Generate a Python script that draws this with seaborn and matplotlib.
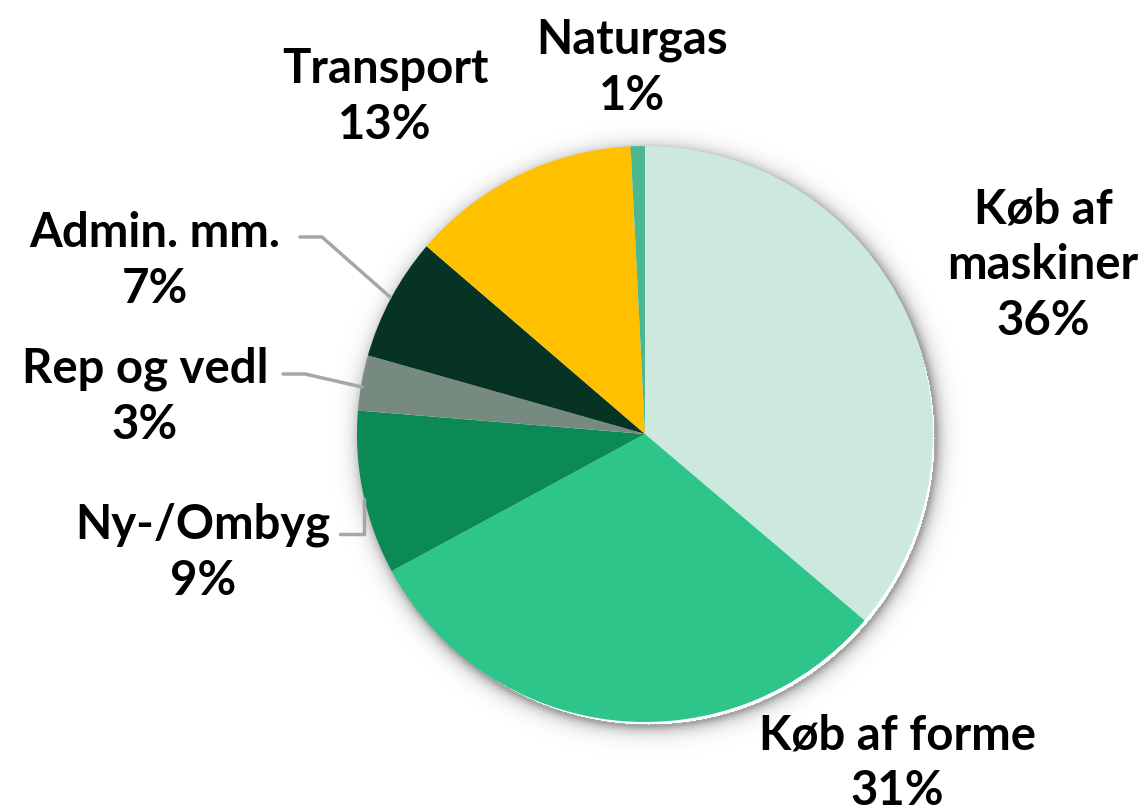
import numpy as np
import matplotlib
matplotlib.use('Agg')
import matplotlib.pyplot as plt
import seaborn as sns

categories = ['Køb af maskiner', 'Køb af forme', 'Ny-/Ombyg', 'Rep og vedl',
              'Admin. mm.', 'Transport', 'Naturgas']
label_text = ['Køb af\nmaskiner', 'Køb af forme', 'Ny-/Ombyg', 'Rep og vedl',
              'Admin. mm.', 'Transport', 'Naturgas']
shares = [36.2, 30.9, 9.2, 3.1, 6.9, 12.9, 0.8]
pct_labels = ['36%', '31%', '9%', '3%', '7%', '13%', '1%']
colors = ['#CDE9DF', '#2EC58A', '#0B8A55', '#778A80', '#063324', '#FFC000', '#4DB88F']

sns.set_theme(style='white')
plt.rcParams['font.family'] = ['Lato', 'DejaVu Sans']

W, H = 1146, 812
fig = plt.figure(figsize=(W / 100, H / 100), dpi=100)
ax = fig.add_axes([0, 0, 1, 1])

cx, cy, r = 645, H - 435, 288

# soft shadow around the pie
yy, xx = np.mgrid[0:H, 0:W]
d = np.hypot(xx - (cx + 3), (H - yy) - (cy - 4))
alpha = np.where(d > r - 2, np.exp(-np.clip(d - r, 0, None) / 7.0), 0) * 0.35
shadow = np.zeros((H, W, 4))
shadow[..., 3] = alpha
ax.imshow(shadow, extent=[0, W, 0, H], origin='upper', zorder=0)

ax.pie(shares, colors=colors, startangle=90, counterclock=False,
       center=(cx, cy), radius=r, frame=True,
       wedgeprops=dict(linewidth=0, zorder=2))
ax.set_xlim(0, W)
ax.set_ylim(0, H)
ax.set_aspect('equal')
ax.axis('off')

# label positions (pixel coords, top-left origin)
label_pos = [(1043, 265), (897, 763), (203, 553), (145, 397),
             (155, 261), (385, 97), (632, 68)]
for txt, pct, (x, y) in zip(label_text, pct_labels, label_pos):
    ax.text(x, H - y, txt + '\n' + pct, ha='center', va='center',
            fontsize=34, fontweight='bold', color='black',
            linespacing=1.33, zorder=5)

# leader lines
lc = '#A6A6A6'
ax.plot([300, 322, 390], [H - 238, H - 238, H - 298], color=lc, lw=2.5, zorder=3)
ax.plot([283, 305, 362], [H - 375, H - 375, H - 388], color=lc, lw=2.5, zorder=3)
ax.plot([340, 364, 364], [H - 535, H - 535, H - 500], color=lc, lw=2.5, zorder=3)

fig.savefig('out.png', dpi=100)
